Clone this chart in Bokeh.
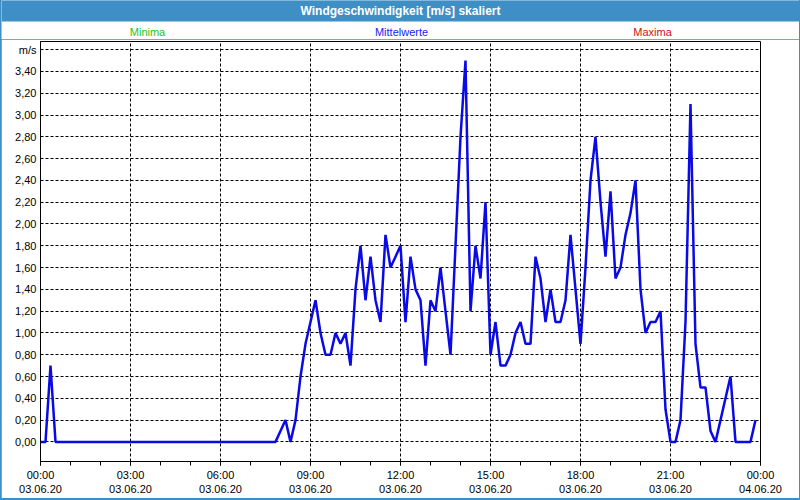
from bokeh.plotting import figure
from bokeh.models import FixedTicker, Range1d, ColumnDataSource
from bokeh.layouts import column
from bokeh.embed import file_html
from bokeh.resources import INLINE
from bokeh.core.properties import value

# ---- data -------------------------------------------------------------
title_text = "Windgeschwindigkeit [m/s] skaliert"
legend_names = ["Minima", "Mittelwerte", "Maxima"]
legend_colors = ["#22c422", "#2020f0", "#c81414"]

step_minutes = 10  # one value every 10 minutes, 03.06.20 00:00 .. 23:50
wind_ms = [
    0.0, 0.0, 0.7, 0.0, 0.0, 0.0, 0.0, 0.0, 0.0, 0.0, 0.0, 0.0,          # 00:00-01:50
    0.0, 0.0, 0.0, 0.0, 0.0, 0.0, 0.0, 0.0, 0.0, 0.0, 0.0, 0.0,          # 02:00-03:50
    0.0, 0.0, 0.0, 0.0, 0.0, 0.0, 0.0, 0.0, 0.0, 0.0, 0.0, 0.0,          # 04:00-05:50
    0.0, 0.0, 0.0, 0.0, 0.0, 0.0, 0.0, 0.0, 0.0, 0.0, 0.0, 0.0,          # 06:00-07:50
    0.1, 0.2, 0.0, 0.2, 0.6, 0.9, 1.1, 1.3, 1.0, 0.8, 0.8, 1.0,          # 08:00-09:50
    0.9, 1.0, 0.7, 1.4, 1.8, 1.3, 1.7, 1.3, 1.1, 1.9, 1.6, 1.7,          # 10:00-11:50
    1.8, 1.1, 1.7, 1.4, 1.3, 0.7, 1.3, 1.2, 1.6, 1.2, 0.8, 1.8,          # 12:00-13:50
    2.8, 3.5, 1.2, 1.8, 1.5, 2.2, 0.8, 1.1, 0.7, 0.7, 0.8, 1.0,          # 14:00-15:50
    1.1, 0.9, 0.9, 1.7, 1.5, 1.1, 1.4, 1.1, 1.1, 1.3, 1.9, 1.4,          # 16:00-17:50
    0.9, 1.6, 2.4, 2.8, 2.2, 1.7, 2.3, 1.5, 1.6, 1.9, 2.1, 2.4,          # 18:00-19:50
    1.4, 1.0, 1.1, 1.1, 1.2, 0.3, 0.0, 0.0, 0.2, 1.1, 3.1, 0.9,          # 20:00-21:50
    0.5, 0.5, 0.1, 0.0, 0.2, 0.4, 0.6, 0.0, 0.0, 0.0, 0.0, 0.2,          # 22:00-23:50
]
hours = [i * step_minutes / 60 for i in range(len(wind_ms))]

x_ticks = [0, 3, 6, 9, 12, 15, 18, 21, 24]
x_minor_ticks = list(range(0, 25))
x_tick_times = ["00:00", "03:00", "06:00", "09:00", "12:00", "15:00", "18:00", "21:00", "00:00"]
x_tick_dates = ["03.06.20"] * 8 + ["04.06.20"]

y_ticks = [0.0, 0.2, 0.4, 0.6, 0.8, 1.0, 1.2, 1.4, 1.6, 1.8, 2.0, 2.2, 2.4, 2.6, 2.8, 3.0, 3.2, 3.4, 3.6]
y_tick_labels = ["0,00", "0,20", "0,40", "0,60", "0,80", "1,00", "1,20", "1,40", "1,60", "1,80",
                 "2,00", "2,20", "2,40", "2,60", "2,80", "3,00", "3,20", "3,40", "m/s"]

FONT = "Liberation Sans"
BAR_BLUE = "#3d8fc5"

# ---- header (title bar + legend texts) ----------------------------------
head = figure(width=798, height=39, x_range=Range1d(0, 798), y_range=Range1d(0, 39),
              output_backend="svg", toolbar_location=None, min_border=0,
              x_axis_location=None, y_axis_location=None, margin=(0, 1, 0, 1))
head.frame_align = False
head.grid.visible = False
head.outline_line_color = None
head.background_fill_color = "white"
head.border_fill_color = "white"
head.quad(left=0, right=798, bottom=18, top=39, color=BAR_BLUE, line_color=None)
head.text(x=[399], y=[28.5], text=[title_text], text_align="center", text_baseline="middle",
          text_color="white", text_font=value(FONT), text_font_style="bold", text_font_size="12px")
leg_src = ColumnDataSource(dict(x=[146, 400, 651], y=[8, 8, 8], text=legend_names, color=legend_colors))
head.text(x="x", y="y", text="text", text_color="color", source=leg_src, text_align="center",
          text_baseline="middle", text_font=value(FONT), text_font_size="11px")

# ---- main chart --------------------------------------------------------
p = figure(width=798, height=459, x_range=Range1d(0, 24), y_range=Range1d(-0.18, 3.675),
           output_backend="svg", toolbar_location=None,
           min_border_left=39, min_border_right=39, min_border_top=2, min_border_bottom=37,
           margin=(0, 1, 2, 1))
p.frame_align = False
p.background_fill_color = "white"
p.border_fill_color = "white"
p.outline_line_color = "black"
p.outline_line_width = 1

p.line(hours, wind_ms, line_color="#0a0ae6", line_width=2.5)

xa = p.xaxis[0]
xa.ticker = FixedTicker(ticks=x_ticks, minor_ticks=x_minor_ticks)
xa.major_label_overrides = {t: f"{a}\n{b}" for t, a, b in zip(x_ticks, x_tick_times, x_tick_dates)}
xa.major_tick_in = 0
xa.major_tick_out = 4
xa.minor_tick_in = 0
xa.minor_tick_out = 4
xa.major_label_standoff = 3
xa.axis_line_color = "black"
xa.major_tick_line_color = "black"
xa.minor_tick_line_color = "black"
xa.major_label_text_font = FONT
xa.major_label_text_font_size = "11px"
xa.major_label_text_color = "black"

ya = p.yaxis[0]
ya.ticker = FixedTicker(ticks=y_ticks, minor_ticks=[])
ya.major_label_overrides = dict(zip(y_ticks, y_tick_labels))
ya.major_tick_in = 0
ya.major_tick_out = 0
ya.minor_tick_line_color = None
ya.major_label_standoff = 4
ya.axis_line_color = "black"
ya.major_label_text_font = FONT
ya.major_label_text_font_size = "11px"
ya.major_label_text_color = "black"

for g in (p.xgrid[0], p.ygrid[0]):
    g.grid_line_color = "black"
    g.grid_line_dash = "3 2"
    g.grid_line_width = 1

layout = column(head, p, spacing=0, styles={"background-color": BAR_BLUE})

open("out.html", "w").write(file_html(layout, INLINE))
